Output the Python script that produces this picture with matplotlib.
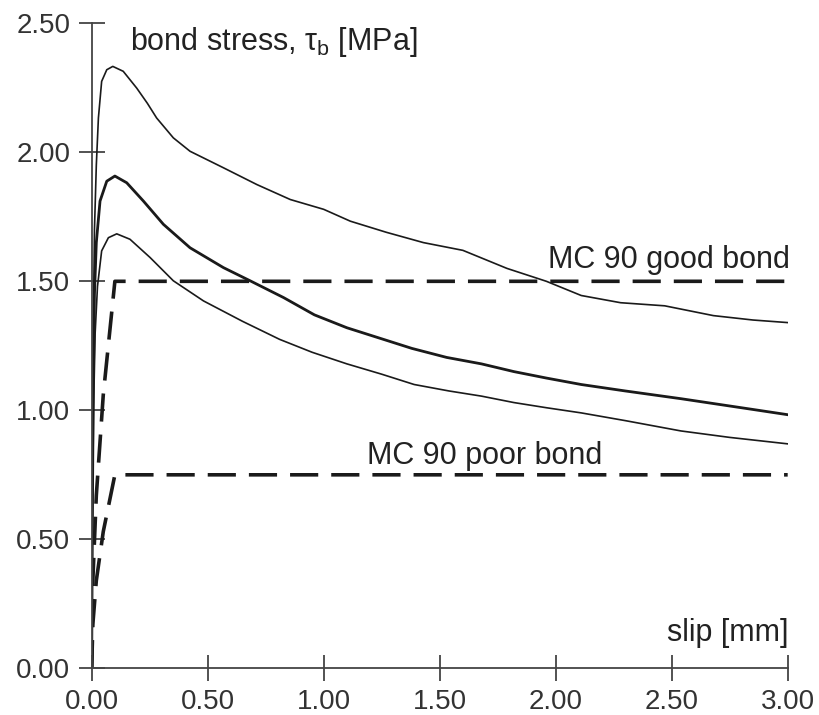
import numpy as np
import matplotlib
import matplotlib.pyplot as plt

matplotlib.use('Agg')

plt.rcParams['font.family'] = ['Liberation Sans', 'DejaVu Sans']
plt.rcParams['mathtext.fontset'] = 'custom'
plt.rcParams['mathtext.rm'] = 'Liberation Sans'
plt.rcParams['mathtext.it'] = 'Liberation Sans'

# test curves (slip in mm, stress in MPa)
slip_upper = [0, 0.003, 0.007, 0.012, 0.02, 0.029, 0.043, 0.065, 0.091, 0.136, 0.194,
              0.24, 0.28, 0.352, 0.424, 0.568, 0.712, 0.856, 1.0, 1.115, 1.27, 1.43,
              1.60, 1.79, 1.96, 2.11, 2.28, 2.47, 2.68, 2.85, 3.00]
tau_upper = [0, 0.70, 1.30, 1.70, 1.95, 2.133, 2.275, 2.32, 2.333, 2.314, 2.249,
             2.19, 2.133, 2.056, 2.004, 1.94, 1.875, 1.817, 1.779, 1.733, 1.69, 1.65,
             1.62, 1.55, 1.50, 1.445, 1.417, 1.405, 1.367, 1.35, 1.34]

slip_mean = [0, 0.003, 0.007, 0.012, 0.02, 0.036, 0.065, 0.10, 0.151, 0.223, 0.309,
             0.424, 0.568, 0.683, 0.827, 0.96, 1.10, 1.24, 1.38, 1.53, 1.68, 1.82,
             1.96, 2.11, 2.30, 2.54, 2.83, 3.00]
tau_mean = [0, 0.60, 1.10, 1.45, 1.65, 1.811, 1.888, 1.908, 1.882, 1.811, 1.721,
            1.63, 1.553, 1.502, 1.437, 1.37, 1.32, 1.28, 1.24, 1.205, 1.18, 1.15,
            1.125, 1.10, 1.075, 1.045, 1.006, 0.983]

slip_lower = [0, 0.003, 0.008, 0.015, 0.025, 0.043, 0.072, 0.108, 0.165, 0.252, 0.352,
              0.482, 0.65, 0.81, 0.95, 1.10, 1.25, 1.39, 1.54, 1.68, 1.82, 1.96,
              2.11, 2.30, 2.54, 2.75, 3.00]
tau_lower = [0, 0.55, 1.00, 1.30, 1.48, 1.618, 1.669, 1.684, 1.663, 1.592, 1.502,
             1.424, 1.345, 1.275, 1.225, 1.18, 1.14, 1.10, 1.075, 1.055, 1.03, 1.01,
             0.99, 0.96, 0.92, 0.895, 0.87]

# MC 90 bond-slip laws
slip_mc = [0, 0.005, 0.02, 0.05, 0.10, 3.00]
tau_mc_good = [0, 0.34, 0.67, 1.06, 1.50, 1.50]
tau_mc_poor = [0, 0.17, 0.34, 0.53, 0.75, 0.75]

x_ticks = [0, 0.5, 1.0, 1.5, 2.0, 2.5, 3.0]
y_ticks = [0, 0.5, 1.0, 1.5, 2.0, 2.5]

fig = plt.figure(figsize=(8.2, 7.15), dpi=100)
ax = fig.add_axes([0.1118, 0.0653, 0.8488, 0.9021])

ink = '#1a1a1a'
ax.plot(slip_upper, tau_upper, color=ink, lw=1.2, solid_joinstyle='round')
ax.plot(slip_mean, tau_mean, color=ink, lw=2.0, solid_joinstyle='round')
ax.plot(slip_lower, tau_lower, color=ink, lw=1.2, solid_joinstyle='round')

ax.plot(slip_mc, tau_mc_good, color=ink, lw=2.6, dashes=(7.8, 3.6))
ax.plot(slip_mc, tau_mc_poor, color=ink, lw=2.6, dashes=(7.8, 3.6))

ax.set_xlim(0, 3.0)
ax.set_ylim(0, 2.5)
ax.set_xticks(x_ticks)
ax.set_yticks(y_ticks)
ax.set_xticklabels([f"{v:.2f}" for v in x_ticks])
ax.set_yticklabels([f"{v:.2f}" for v in y_ticks])

for side in ['top', 'right']:
    ax.spines[side].set_visible(False)
for side in ['left', 'bottom']:
    ax.spines[side].set_color('#444444')
    ax.spines[side].set_linewidth(1.3)

ax.tick_params(axis='both', direction='inout', length=18.5, width=1.3,
               color='#444444', labelsize=20, labelcolor='#333333')
ax.tick_params(axis='y', pad=6)
ax.tick_params(axis='x', pad=6)

txt = dict(fontsize=22, color='#222222', va='baseline')
ax.text(0.165, 2.395, r'bond stress, $\tau_\mathrm{b}$ [MPa]', ha='left', **txt)
ax.text(2.49, 1.553, 'MC 90 good bond', ha='center', **txt)
ax.text(1.693, 0.793, 'MC 90 poor bond', ha='center', **txt)
ax.text(2.74, 0.106, 'slip [mm]', ha='center', **txt)

for t in ax.texts:
    t.set_clip_on(False)

plt.savefig('out.png', dpi=100)
